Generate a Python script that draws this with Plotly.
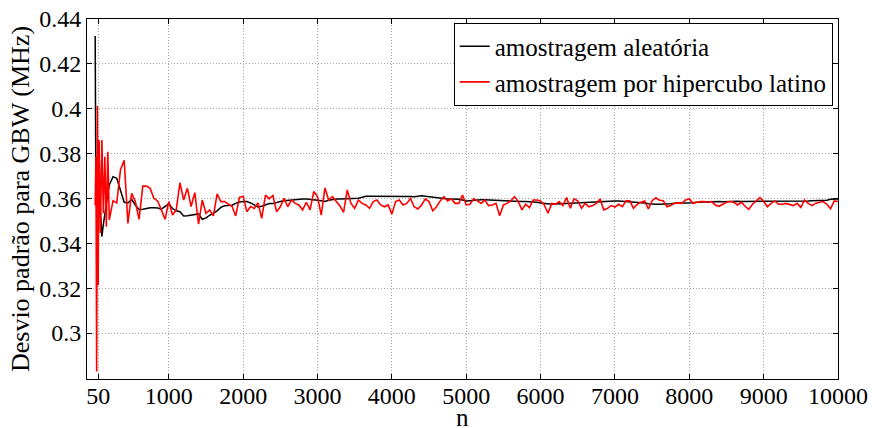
import plotly.graph_objects as go

# Sample sizes: fine steps at the start, then every 50 samples up to 10000
n_early = [10, 20, 30, 40, 50, 60, 80, 100, 120, 140, 160, 180, 200]
n_late = list(range(250, 10001, 50))
n_values = n_early + n_late

# Standard deviation of GBW (MHz) -- random sampling
aleatoria_early = [0.4324, 0.3580, 0.3620, 0.3500, 0.3560, 0.3853, 0.3550,
                   0.3430, 0.3484, 0.3530, 0.3593, 0.3620, 0.3660]
aleatoria_late = [
    0.3697, 0.3690, 0.3640, 0.3583, 0.3580, 0.3596, 0.3571, 0.3550, 0.3552, 0.3556,
    0.3558, 0.3558, 0.3557, 0.3552, 0.3564, 0.3576, 0.3555, 0.3545, 0.3541, 0.3522,
    0.3523, 0.3526, 0.3526, 0.3531, 0.3507, 0.3513, 0.3525, 0.3534, 0.3545, 0.3560,
    0.3567, 0.3568, 0.3570, 0.3578, 0.3584, 0.3586, 0.3586, 0.3580, 0.3570, 0.3562,
    0.3565, 0.3571, 0.3577, 0.3577, 0.3580, 0.3586, 0.3590, 0.3592, 0.3595, 0.3596,
    0.3598, 0.3598, 0.3598, 0.3597, 0.3595, 0.3592, 0.3590, 0.3586, 0.3592, 0.3596,
    0.3598, 0.3598, 0.3598, 0.3598, 0.3598, 0.3600, 0.3601, 0.3605, 0.3610, 0.3610,
    0.3610, 0.3610, 0.3610, 0.3610, 0.3611, 0.3612, 0.3610, 0.3609, 0.3612, 0.3611,
    0.3609, 0.3608, 0.3611, 0.3612, 0.3610, 0.3608, 0.3605, 0.3603, 0.3601, 0.3598,
    0.3598, 0.3598, 0.3598, 0.3596, 0.3593, 0.3589, 0.3590, 0.3592, 0.3593, 0.3594,
    0.3594, 0.3593, 0.3591, 0.3590, 0.3589, 0.3588, 0.3587, 0.3586, 0.3586, 0.3586,
    0.3586, 0.3586, 0.3586, 0.3586, 0.3583, 0.3580, 0.3578, 0.3575, 0.3574, 0.3575,
    0.3576, 0.3577, 0.3578, 0.3579, 0.3580, 0.3581, 0.3582, 0.3583, 0.3584, 0.3585,
    0.3586, 0.3586, 0.3587, 0.3588, 0.3588, 0.3589, 0.3589, 0.3588, 0.3587, 0.3586,
    0.3586, 0.3585, 0.3583, 0.3580, 0.3576, 0.3574, 0.3574, 0.3574, 0.3574, 0.3574,
    0.3576, 0.3578, 0.3578, 0.3579, 0.3579, 0.3580, 0.3581, 0.3583, 0.3584, 0.3585,
    0.3585, 0.3586, 0.3587, 0.3586, 0.3585, 0.3586, 0.3587, 0.3588, 0.3587, 0.3586,
    0.3586, 0.3587, 0.3588, 0.3587, 0.3586, 0.3586, 0.3587, 0.3587, 0.3586, 0.3586,
    0.3587, 0.3587, 0.3588, 0.3588, 0.3589, 0.3589, 0.3589, 0.3589, 0.3590, 0.3590,
    0.3589, 0.3589, 0.3592, 0.3596, 0.3598, 0.3598,
]

# Standard deviation of GBW (MHz) -- Latin hypercube sampling
hipercubo_early = [0.3568, 0.3786, 0.2828, 0.4012, 0.3214, 0.3860, 0.3446,
                   0.3860, 0.3534, 0.3786, 0.3474, 0.3808, 0.3504]
hipercubo_late = [
    0.3590, 0.3580, 0.3727, 0.3770, 0.3489, 0.3623, 0.3586, 0.3507, 0.3655, 0.3655,
    0.3645, 0.3600, 0.3589, 0.3549, 0.3507, 0.3586, 0.3526, 0.3549, 0.3670, 0.3593,
    0.3645, 0.3564, 0.3626, 0.3486, 0.3593, 0.3534, 0.3549, 0.3522, 0.3620, 0.3586,
    0.3586, 0.3575, 0.3565, 0.3522, 0.3605, 0.3610, 0.3541, 0.3564, 0.3555, 0.3580,
    0.3511, 0.3615, 0.3598, 0.3613, 0.3541, 0.3563, 0.3600, 0.3563, 0.3593, 0.3578,
    0.3571, 0.3549, 0.3583, 0.3549, 0.3631, 0.3608, 0.3526, 0.3647, 0.3593, 0.3608,
    0.3586, 0.3568, 0.3538, 0.3638, 0.3578, 0.3556, 0.3593, 0.3578, 0.3571, 0.3556,
    0.3586, 0.3593, 0.3571, 0.3563, 0.3571, 0.3530, 0.3586, 0.3593, 0.3571, 0.3578,
    0.3600, 0.3563, 0.3553, 0.3571, 0.3598, 0.3586, 0.3545, 0.3563, 0.3589, 0.3608,
    0.3589, 0.3598, 0.3578, 0.3578, 0.3615, 0.3571, 0.3574, 0.3598, 0.3589, 0.3578,
    0.3593, 0.3568, 0.3571, 0.3578, 0.3523, 0.3571, 0.3578, 0.3590, 0.3608, 0.3586,
    0.3549, 0.3574, 0.3559, 0.3593, 0.3593, 0.3589, 0.3571, 0.3534, 0.3578, 0.3574,
    0.3586, 0.3568, 0.3604, 0.3556, 0.3598, 0.3589, 0.3556, 0.3578, 0.3563, 0.3568,
    0.3578, 0.3598, 0.3549, 0.3556, 0.3568, 0.3561, 0.3574, 0.3563, 0.3589, 0.3589,
    0.3556, 0.3574, 0.3583, 0.3589, 0.3553, 0.3590, 0.3603, 0.3592, 0.3590, 0.3563,
    0.3568, 0.3578, 0.3580, 0.3578, 0.3593, 0.3598, 0.3578, 0.3583, 0.3586, 0.3586,
    0.3583, 0.3586, 0.3571, 0.3565, 0.3574, 0.3583, 0.3586, 0.3583, 0.3571, 0.3583,
    0.3565, 0.3551, 0.3574, 0.3589, 0.3604, 0.3586, 0.3563, 0.3578, 0.3589, 0.3574,
    0.3574, 0.3578, 0.3574, 0.3568, 0.3578, 0.3560, 0.3593, 0.3578, 0.3568, 0.3578,
    0.3583, 0.3586, 0.3574, 0.3554, 0.3589, 0.3586,
]

aleatoria = aleatoria_early + aleatoria_late
hipercubo = hipercubo_early + hipercubo_late

x_ticks = [50, 1000, 2000, 3000, 4000, 5000, 6000, 7000, 8000, 9000, 10000]
y_ticks = [0.30, 0.32, 0.34, 0.36, 0.38, 0.40, 0.42, 0.44]
y_tick_labels = ["0.3", "0.32", "0.34", "0.36", "0.38", "0.4", "0.42", "0.44"]

FONT = "'Liberation Serif', 'Times New Roman', Times, serif"

fig = go.Figure()
fig.add_trace(go.Scatter(
    x=n_values, y=aleatoria, mode="lines",
    name="amostragem aleatória",
    line=dict(color="black", width=1.5),
))
fig.add_trace(go.Scatter(
    x=n_values, y=hipercubo, mode="lines",
    name="amostragem por hipercubo latino",
    line=dict(color="#ff0000", width=1.6),
))

axis_style = dict(
    showline=True, linecolor="black", linewidth=1, mirror="ticks",
    ticks="inside", ticklen=5, tickcolor="black",
    showgrid=True, gridcolor="#a8a8a8", griddash="1px,2px", gridwidth=1,
    zeroline=False, automargin=False,
    tickfont=dict(family=FONT, size=24, color="black"),
)

fig.update_xaxes(
    range=[-100, 10000], tickvals=x_ticks,
    ticktext=[str(v) for v in x_ticks],
    ticklabelstandoff=-5,
    **axis_style,
)
fig.update_yaxes(
    range=[0.2795, 0.44], tickvals=y_ticks, ticktext=y_tick_labels,
    title=dict(text="Desvio padrão para GBW (MHz)",
               font=dict(family=FONT, size=26, color="black"), standoff=2),
    **axis_style,
)

# x-axis label placed just under the tick labels
fig.add_annotation(
    text="n", xref="paper", yref="paper", x=0.5, y=-0.15,
    xanchor="center", yanchor="bottom", showarrow=False,
    font=dict(family=FONT, size=25, color="black"),
)

fig.update_layout(
    width=872, height=428,
    margin=dict(l=87, r=34, t=19, b=49),
    paper_bgcolor="white", plot_bgcolor="white",
    font=dict(family=FONT, size=24, color="black"),
    showlegend=True,
    legend=dict(
        x=0.993, y=0.99, xanchor="right", yanchor="top",
        bgcolor="white", bordercolor="black", borderwidth=1,
        font=dict(family=FONT, size=25, color="black"),
        itemwidth=30, tracegroupgap=0,
    ),
)

fig.write_html("out.html")
